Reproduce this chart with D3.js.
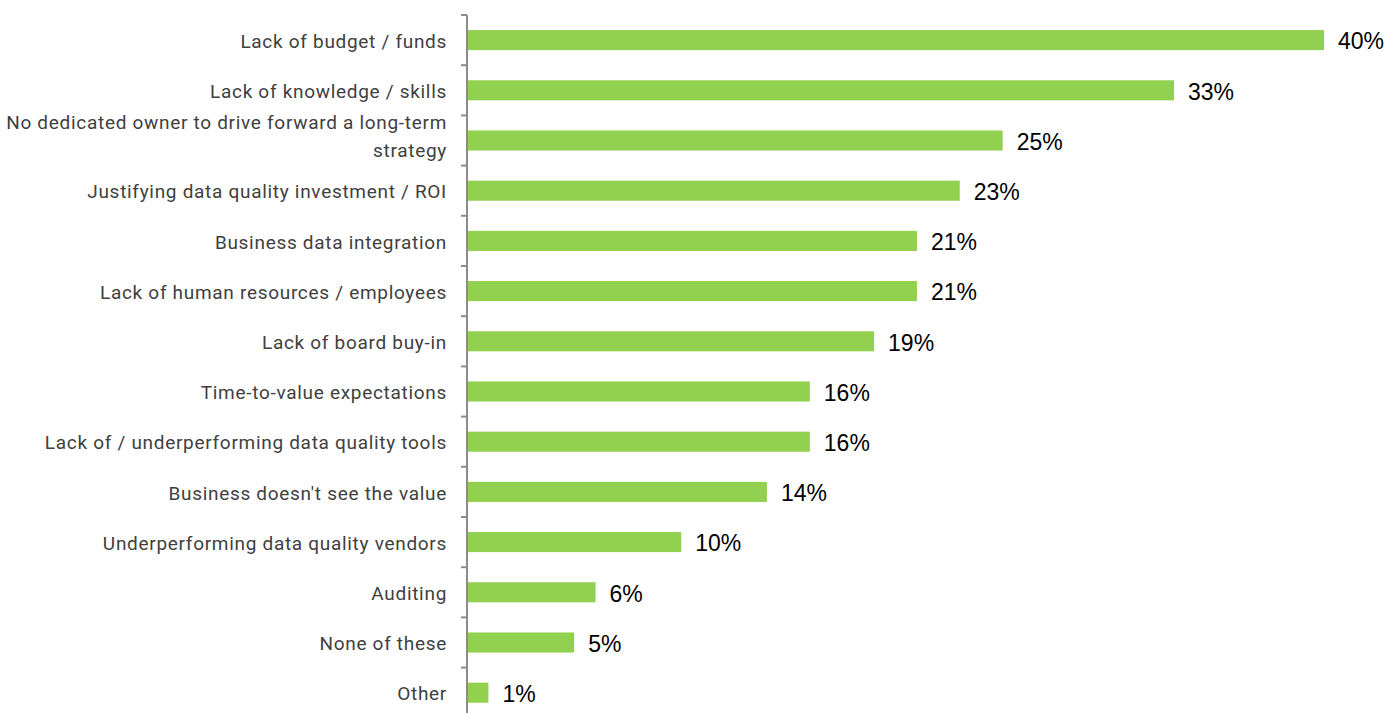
<!DOCTYPE html>
<html>
<head>
<meta charset="utf-8">
<script src="https://cdn.jsdelivr.net/npm/d3@7"></script>
<style>
  html, body { margin: 0; padding: 0; background: #ffffff; }
  svg { display: block; }
</style>
</head>
<body>
<svg id="chart" width="1400" height="713"></svg>
<script>
// Barriers to data quality, share of respondents (%)
const categories = [
  "Lack of budget / funds",
  "Lack of knowledge / skills",
  "No dedicated owner to drive forward a long-term|strategy",
  "Justifying data quality investment / ROI",
  "Business data integration",
  "Lack of human resources / employees",
  "Lack of board buy-in",
  "Time-to-value expectations",
  "Lack of / underperforming data quality tools",
  "Business doesn't see the value",
  "Underperforming data quality vendors",
  "Auditing",
  "None of these",
  "Other"
];
const values = [40, 33, 25, 23, 21, 21, 19, 16, 16, 14, 10, 6, 5, 1];

const svg = d3.select("#chart");
const axisX = 467;
const plotTop = 15;
const bandStep = 50.2;

const x = d3.scaleLinear().domain([0, 40]).range([axisX, 1324]);
const y = d3.scaleBand()
  .domain(categories)
  .range([plotTop, plotTop + bandStep * categories.length])
  .paddingInner(0.6)
  .paddingOuter(0.3);

// bars
svg.append("g")
  .selectAll("rect")
  .data(values)
  .join("rect")
  .attr("x", x(0))
  .attr("y", (d, i) => y(categories[i]))
  .attr("width", d => x(d) - x(0))
  .attr("height", y.bandwidth())
  .attr("fill", "#92d050");

// axis line and ticks between categories
const axisG = svg.append("g").attr("stroke", "#8c8c8c").attr("stroke-width", 2);
axisG.append("line")
  .attr("x1", axisX).attr("x2", axisX)
  .attr("y1", plotTop).attr("y2", plotTop + bandStep * categories.length);
const tickYs = d3.range(categories.length + 1).map(i => plotTop + i * bandStep);
axisG.selectAll("line.tick")
  .data(tickYs)
  .join("line")
  .attr("class", "tick")
  .attr("x1", axisX - 6).attr("x2", axisX)
  .attr("y1", d => d).attr("y2", d => d);

// category labels
const labelG = svg.append("g")
  .attr("font-family", "Roboto, 'DejaVu Sans', sans-serif")
  .attr("font-size", 19)
  .attr("letter-spacing", "0.7px")
  .attr("fill", "#404040")
  .attr("text-anchor", "end");
const lineH = 28;
categories.forEach(c => {
  const lines = c.split("|");
  const cy = y(c) + y.bandwidth() / 2;
  const t = labelG.append("text")
    .attr("y", cy - (lines.length - 1) * (lineH / 2 + 5));
  lines.forEach((ln, j) => {
    t.append("tspan")
      .attr("x", 447)
      .attr("dy", j === 0 ? "0.4em" : lineH)
      .text(ln);
  });
});

// value labels
svg.append("g")
  .attr("font-family", "'Liberation Sans', Arial, sans-serif")
  .attr("font-size", 23)
  .attr("fill", "#000000")
  .selectAll("text")
  .data(values)
  .join("text")
  .attr("x", d => x(d) + 14)
  .attr("y", (d, i) => y(categories[i]) + y.bandwidth() / 2)
  .attr("dy", "0.4em")
  .text(d => d + "%");
</script>
</body>
</html>
